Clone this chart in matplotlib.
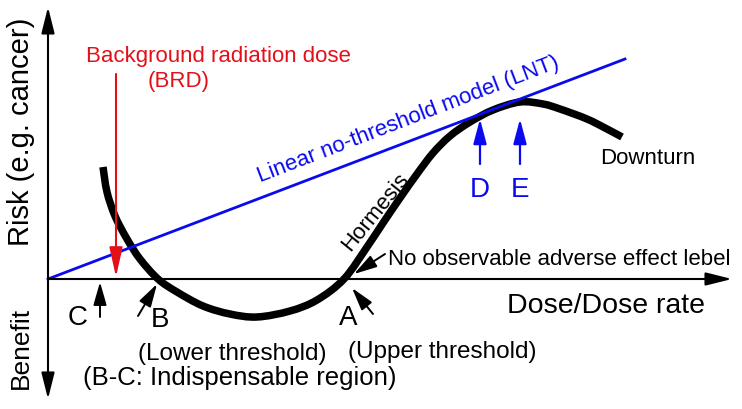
import matplotlib
matplotlib.use("Agg")
import matplotlib.pyplot as plt
from matplotlib.path import Path
from matplotlib.patches import PathPatch

plt.rcParams['font.family'] = ['Liberation Sans', 'DejaVu Sans']

# hormesis curve (dose vs risk)
dose = [0.55, 0.59, 0.67, 0.79, 0.92, 1.10, 1.29, 1.55, 1.82, 2.09, 2.42, 2.69,
        2.96, 3.19, 3.35, 3.52, 3.69, 3.85, 4.02, 4.22, 4.45, 4.72, 4.95,
        5.12, 5.39, 5.59, 5.74]
risk = [1.12, 0.87, 0.63, 0.40, 0.20, 0.00, -0.13, -0.27, -0.35, -0.38, -0.32, -0.21,
        0.00, 0.32, 0.56, 0.81, 1.05, 1.26, 1.43, 1.57, 1.69, 1.77, 1.75,
        1.70, 1.60, 1.50, 1.42]

# linear no-threshold model
lnt_dose = [0.0, 5.77]
lnt_risk = [0.0, 2.20]

# background radiation dose
brd_dose = 0.68

# point markers: (label, tail, tip)
pointers = [
    ("C", (0.52, -0.38), (0.52, -0.03)),
    ("B", (0.90, -0.37), (1.09, -0.05)),
    ("A", (3.25, -0.35), (3.04, -0.09)),
]
noael_arrow = ((3.37, 0.25), (3.06, 0.05))
de_marks = [("D", 4.32), ("E", 4.72)]

red = '#e3101a'
blue = '#0a0aee'


def smooth_path(xs, ys):
    # catmull-rom through the read points, drawn as cubic bezier segments
    pts = list(zip(xs, ys))
    n = len(pts)
    verts = [pts[0]]
    codes = [Path.MOVETO]
    for i in range(n - 1):
        p0 = pts[max(i - 1, 0)]
        p1 = pts[i]
        p2 = pts[i + 1]
        p3 = pts[min(i + 2, n - 1)]
        c1 = (p1[0] + (p2[0] - p0[0]) / 6, p1[1] + (p2[1] - p0[1]) / 6)
        c2 = (p2[0] - (p3[0] - p1[0]) / 6, p2[1] - (p3[1] - p1[1]) / 6)
        verts += [c1, c2, p2]
        codes += [Path.CURVE4] * 3
    return Path(verts, codes)


fig = plt.figure(figsize=(7.42, 4.10), dpi=100)
ax = fig.add_axes([0, 0, 1, 1])
ax.set_xlim(-0.48, 6.94)
ax.set_ylim(-1.30, 2.80)
ax.axis('off')

# axes arrows
ax.annotate('', xy=(0, 2.72), xytext=(0, -1.20),
            arrowprops=dict(arrowstyle='<|-|>,head_length=0.8,head_width=0.2',
                            color='black', lw=1.5, shrinkA=0, shrinkB=0,
                            mutation_scale=20))
ax.annotate('', xy=(6.84, 0), xytext=(0, 0),
            arrowprops=dict(arrowstyle='-|>,head_length=0.8,head_width=0.2',
                            color='black', lw=1.5, shrinkA=0, shrinkB=0,
                            mutation_scale=20))

# LNT line
ax.plot(lnt_dose, lnt_risk, color=blue, lw=2.0)
ax.text(2.12, 0.98, 'Linear no-threshold model (LNT)', color=blue, fontsize=16,
        rotation=21, rotation_mode='anchor', ha='left', va='baseline')

# hormesis curve
ax.add_patch(PathPatch(smooth_path(dose, risk), fill=False, edgecolor='black',
                       lw=5.4, capstyle='butt', joinstyle='round'))
ax.text(3.27, 0.68, 'Hormesis', fontsize=16, rotation=51,
        ha='center', va='center', rotation_mode='anchor')

# BRD arrow
ax.annotate('', xy=(brd_dose, 0.02), xytext=(brd_dose, 2.05),
            arrowprops=dict(arrowstyle='-|>,head_length=0.9,head_width=0.2',
                            color=red, lw=1.5, shrinkA=0, shrinkB=0,
                            mutation_scale=20))
ax.text(0.38, 2.18, 'Background radiation dose', color=red, fontsize=16,
        ha='left', va='baseline')
ax.text(1.00, 1.93, '(BRD)', color=red, fontsize=16, ha='left', va='baseline')

# C, B, A pointers
label_pos = {"C": (0.30, -0.45), "B": (1.12, -0.47), "A": (3.00, -0.45)}
for name, tail, tip in pointers:
    ax.annotate('', xy=tip, xytext=tail,
                arrowprops=dict(arrowstyle='-|>,head_length=0.7,head_width=0.2',
                                color='black', lw=1.4, shrinkA=0, shrinkB=0,
                                mutation_scale=20))
    ax.text(*label_pos[name], name, fontsize=20, ha='center', va='baseline')

ax.annotate('', xy=noael_arrow[1], xytext=noael_arrow[0],
            arrowprops=dict(arrowstyle='-|>,head_length=0.7,head_width=0.2',
                            color='black', lw=1.4, shrinkA=0, shrinkB=0,
                            mutation_scale=20))
ax.text(3.40, 0.15, 'No observable adverse effect lebel', fontsize=16,
        ha='left', va='baseline')

# D and E
for name, x in de_marks:
    ax.annotate('', xy=(x, 1.60), xytext=(x, 1.15),
                arrowprops=dict(arrowstyle='-|>,head_length=0.75,head_width=0.2',
                                color=blue, lw=1.6, shrinkA=0, shrinkB=0,
                                mutation_scale=20))
    ax.text(x, 0.83, name, color=blue, fontsize=20, ha='center', va='baseline')

ax.text(5.52, 1.16, 'Downturn', fontsize=16, ha='left', va='baseline')
ax.text(4.59, -0.33, 'Dose/Dose rate', fontsize=20.5, ha='left', va='baseline')

ax.text(0.90, -0.80, '(Lower threshold)', fontsize=17.5, ha='left', va='baseline')
ax.text(3.00, -0.78, '(Upper threshold)', fontsize=17.5, ha='left', va='baseline')
ax.text(0.35, -1.05, '(B-C: Indispensable region)', fontsize=18.5,
        ha='left', va='baseline')

# axis titles
ax.text(-0.27, 1.48, 'Risk (e.g. cancer)', fontsize=21, rotation=90,
        ha='center', va='center')
ax.text(-0.27, -0.68, 'Benefit', fontsize=19, rotation=90,
        ha='center', va='center')

fig.savefig('out.png', dpi=100)
